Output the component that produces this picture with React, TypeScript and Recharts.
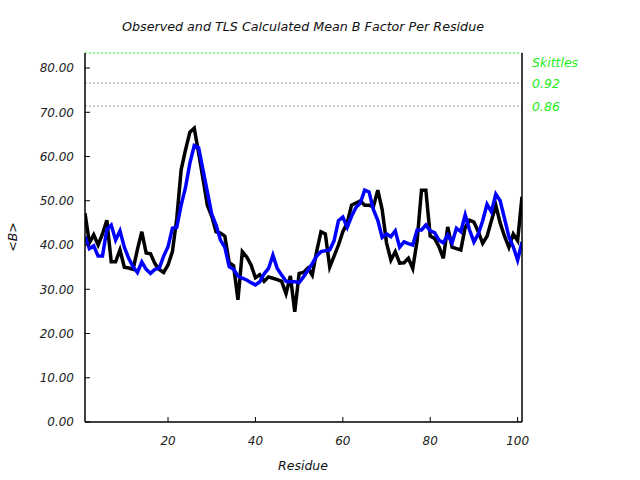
import React from 'react';
import { LineChart, Line, XAxis, YAxis, ReferenceLine } from 'recharts';

const residues: number[] = Array.from({ length: 101 }, (_, i) => i + 1);

const observedB: number[] = [
  47.2, 40.5, 42.3, 40.0, 42.5, 45.6, 36.2, 36.2, 38.9, 35.0,
  34.8, 34.5, 39.0, 43.0, 38.2, 38.0, 35.8, 34.5, 33.8, 35.5,
  38.5, 46.0, 57.0, 61.5, 65.5, 66.4, 60.8, 55.0, 49.0, 46.5,
  43.0, 42.7, 42.0, 36.0, 35.3, 27.6, 38.5, 37.3, 35.5, 32.6,
  33.3, 31.8, 32.8, 32.5, 32.2, 31.8, 29.0, 33.0, 24.9, 33.6,
  33.8, 34.8, 33.2, 38.5, 43.0, 42.5, 35.0, 37.5, 40.0, 43.0,
  45.0, 49.0, 49.5, 50.0, 49.0, 49.0, 48.7, 52.4, 48.0, 40.5,
  36.6, 38.5, 35.9, 36.0, 37.0, 34.7, 41.0, 52.4, 52.4, 42.0,
  41.5, 39.6, 37.0, 44.1, 39.5, 39.2, 38.9, 44.0, 45.6, 45.2,
  43.0, 40.4, 42.0, 45.5, 49.0, 45.0, 42.0, 39.5, 42.5, 41.0,
  50.9,
];

const tlsB: number[] = [
  41.9, 39.2, 39.8, 37.5, 37.5, 43.5, 44.5, 41.1, 43.2, 39.5,
  37.0, 35.1, 33.8, 36.2, 34.5, 33.6, 34.5, 34.8, 37.5, 39.6,
  43.8, 44.0, 49.0, 53.0, 58.5, 62.5, 62.0, 57.0, 52.0, 47.0,
  44.5, 41.1, 39.5, 35.1, 34.5, 33.0, 32.5, 32.1, 31.5, 31.0,
  31.7, 33.5, 34.7, 37.7, 34.7, 33.2, 31.8, 31.7, 31.7, 31.5,
  32.8, 34.3, 35.8, 37.5, 38.5, 38.7, 38.9, 41.0, 45.5, 46.3,
  44.0, 46.5, 48.5, 49.5, 52.4, 52.0, 48.0, 45.6, 41.7, 42.5,
  41.9, 43.2, 39.5, 40.7, 40.3, 40.0, 43.4, 43.4, 44.5, 43.2,
  42.8, 41.1, 40.5, 42.3, 40.5, 43.8, 43.0, 46.8, 43.4, 40.7,
  42.5, 45.5, 49.2, 47.5, 51.5, 50.0, 46.0, 41.9, 39.6, 36.6,
  40.7,
];

const yTicks: number[] = [0, 10, 20, 30, 40, 50, 60, 70, 80];
const xTicks: number[] = [20, 40, 60, 80, 100];
const refValues: number[] = [76.6, 71.4];
const refLabels: string[] = ['0.92', '0.86'];
const skittlesValue = 83.4;
const skittlesLabel = 'Skittles';

const data = residues.map((r, i) => ({ residue: r, observed: observedB[i], tls: tlsB[i] }));

const FONT = '"DejaVu Sans", sans-serif';
const GREEN = '#22ee22';
const tickStyle = { fontFamily: FONT, fontStyle: 'italic', fontSize: 12, fill: '#222' };

const makeLabel = (text: string, dy: number) => (props: any) => {
  const vb = props.viewBox || {};
  return (
    <text
      x={(vb.x || 0) + (vb.width || 0) + 10}
      y={(vb.y || 0) + dy}
      fill={GREEN}
      fontFamily={FONT}
      fontStyle="italic"
      fontSize={12.5}
      dominantBaseline="central"
    >
      {text}
    </text>
  );
};

export default function App() {
  return (
    <div style={{ position: 'absolute', left: 0, top: 0, width: 640, height: 480, background: '#fff' }}>
      <div
        style={{
          position: 'absolute', left: 0, top: 19, width: 606, textAlign: 'center',
          fontFamily: FONT, fontStyle: 'italic', fontSize: 12.7, lineHeight: '16px', color: '#111',
        }}
      >
        Observed and TLS Calculated Mean B Factor Per Residue
      </div>
      <div
        style={{
          position: 'absolute', left: 0, top: 458, width: 606, textAlign: 'center',
          fontFamily: FONT, fontStyle: 'italic', fontSize: 12.5, lineHeight: '16px', color: '#111',
        }}
      >
        Residue
      </div>
      <div
        style={{
          position: 'absolute', left: -12, top: 229, width: 50, textAlign: 'center',
          fontFamily: FONT, fontStyle: 'italic', fontSize: 12.5, lineHeight: '16px', color: '#111',
          transform: 'rotate(-90deg)',
        }}
      >
        {'<B>'}
      </div>
      <LineChart
        width={640}
        height={480}
        data={data}
        margin={{ top: 53, right: 108, bottom: 28, left: 25 }}
        style={{ position: 'absolute', left: 0, top: 0 }}
      >
        <XAxis
          dataKey="residue"
          type="number"
          domain={[1, 101]}
          ticks={xTicks}
          height={30}
          tickSize={-5}
          tickMargin={19}
          axisLine={{ stroke: '#000', strokeWidth: 1.5 }}
          tickLine={{ stroke: '#000' }}
          tick={tickStyle}
          allowDataOverflow
        />
        <YAxis
          yAxisId="left"
          orientation="left"
          width={60}
          domain={[0, skittlesValue]}
          ticks={yTicks}
          tickFormatter={(v: number) => v.toFixed(2)}
          tickSize={-5}
          tickMargin={16}
          axisLine={{ stroke: '#000', strokeWidth: 1.5 }}
          tickLine={{ stroke: '#000' }}
          tick={tickStyle}
          allowDataOverflow
        />
        <YAxis
          yAxisId="right"
          orientation="right"
          width={10}
          domain={[0, skittlesValue]}
          ticks={[...yTicks, ...refValues]}
          tickSize={-5}
          axisLine={{ stroke: '#000', strokeWidth: 1.5 }}
          tickLine={{ stroke: '#000' }}
          tick={false}
          allowDataOverflow
        />
        <ReferenceLine
          yAxisId="left"
          y={skittlesValue}
          stroke={GREEN}
          strokeDasharray="2 2"
          label={makeLabel(skittlesLabel, 9)}
        />
        {refValues.map((v, i) => (
          <ReferenceLine
            key={i}
            yAxisId="left"
            y={v}
            stroke="#999"
            strokeDasharray="2 2"
            label={makeLabel(refLabels[i], 0)}
          />
        ))}
        <Line
          yAxisId="left"
          type="linear"
          dataKey="observed"
          stroke="#000"
          strokeWidth={3.5}
          dot={false}
          isAnimationActive={false}
        />
        <Line
          yAxisId="left"
          type="linear"
          dataKey="tls"
          stroke="#0000ff"
          strokeWidth={3.5}
          dot={false}
          isAnimationActive={false}
        />
      </LineChart>
    </div>
  );
}
